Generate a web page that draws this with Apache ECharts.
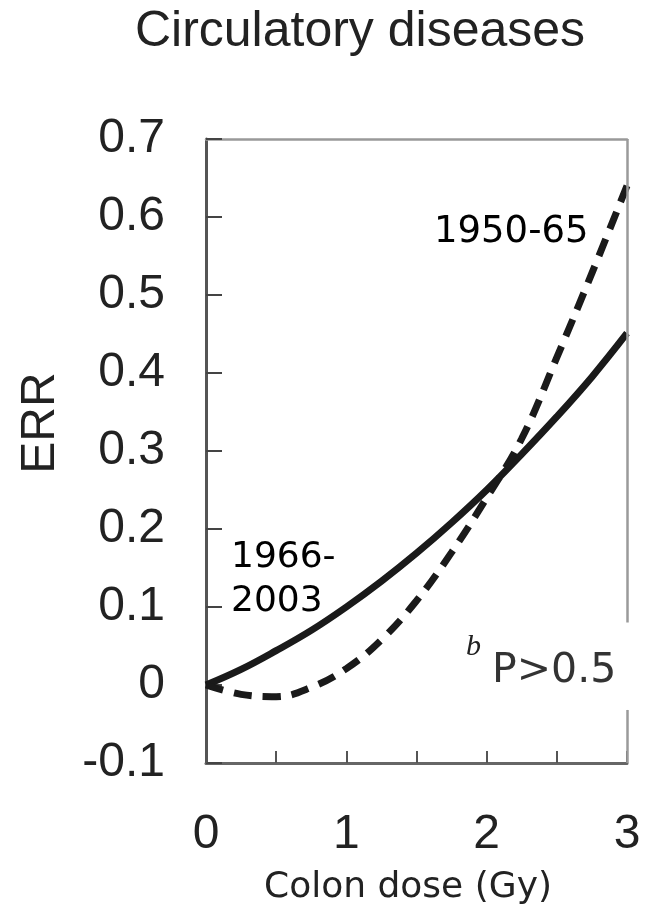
<!DOCTYPE html>
<html>
<head>
<meta charset="utf-8">
<script src="https://cdn.jsdelivr.net/npm/echarts@6/dist/echarts.min.js"></script>
<style>
  html, body { margin: 0; padding: 0; background: #fff; }
  #main { width: 650px; height: 917px; }
</style>
</head>
<body>
<div id="main"></div>
<script>
// colon dose (Gy)
const dose = [0, 0.25, 0.5, 0.75, 1, 1.25, 1.5, 1.75, 2, 2.25, 2.5, 2.75, 3];
// ERR, 1966-2003 (solid)
const err1966 = [0, 0.02, 0.044, 0.07, 0.1, 0.133, 0.169, 0.208, 0.25, 0.296, 0.344, 0.395, 0.451];
// ERR, 1950-65 (dashed)
const err1950 = [0, -0.012, -0.015, -0.003, 0.021, 0.058, 0.108, 0.17, 0.24, 0.316, 0.42, 0.528, 0.64];
// frame on the right side, broken round the p-value
const rightFrame = [[0.7, 0.08], [-0.032, -0.1]];

const FONT = "'Liberation Sans', Arial, sans-serif";
const VERD = "'DejaVu Sans', sans-serif";
const chart = echarts.init(document.getElementById('main'), null, { renderer: 'canvas' });

const pairs = (xs, ys) => xs.map((x, i) => [x, ys[i]]);

let option = {
  animation: false,
  grid: { left: 206, right: 23, top: 139, bottom: 154 },
  xAxis: [
    {
      type: 'value',
      min: 0, max: 3, interval: 0.5,
      axisLine: { onZero: false, lineStyle: { color: '#666', width: 3 } },
      axisTick: { inside: true, length: 12, lineStyle: { color: '#555', width: 2 } },
      axisLabel: {
        margin: 48, fontSize: 48, color: '#222', fontFamily: FONT,
        formatter: v => (v % 1 === 0 ? String(v) : '')
      },
      splitLine: { show: false }
    },
    {
      type: 'value', position: 'top',
      min: 0, max: 3,
      axisLine: { show: true, onZero: false, lineStyle: { color: '#999', width: 2.5 } },
      axisTick: { show: false }, axisLabel: { show: false }, splitLine: { show: false }
    }
  ],
  yAxis: {
    type: 'value',
    min: -0.1, max: 0.7, interval: 0.1,
    axisLine: { show: true, onZero: false, lineStyle: { color: '#555', width: 3 } },
    axisTick: { show: true, inside: true, length: 16, lineStyle: { color: '#444', width: 2 } },
    axisLabel: {
      margin: 41, fontSize: 48, color: '#222', fontFamily: FONT,
      formatter: v => (Math.abs(v) < 1e-9 ? '0' : v.toFixed(1))
    },
    splitLine: { show: false }
  },
  graphic: [
    {
      type: 'text', x: 360, y: 32,
      style: { text: 'Circulatory diseases', fontSize: 50, fontFamily: FONT, fill: '#222', align: 'center', verticalAlign: 'middle' }
    },
    {
      type: 'text', x: 41, y: 423, rotation: Math.PI / 2,
      style: { text: 'ERR', fontSize: 48, fontFamily: FONT, fill: '#222', align: 'center', verticalAlign: 'middle' }
    },
    {
      type: 'text', x: 408, y: 888,
      style: { text: 'Colon dose (Gy)', fontSize: 36, fontFamily: VERD, fill: '#222', align: 'center', verticalAlign: 'middle' }
    },
    {
      type: 'text', x: 434, y: 232,
      style: { text: '1950-65', fontSize: 37, fontFamily: VERD, fill: '#000', verticalAlign: 'middle' }
    },
    {
      type: 'text', x: 231, y: 580,
      style: { text: '1966-\n2003', fontSize: 36, lineHeight: 44, fontFamily: VERD, fill: '#000', verticalAlign: 'middle' }
    },
    {
      type: 'text', x: 466, y: 647,
      style: { text: 'b', fontSize: 30, fontStyle: 'italic', fontFamily: "'Liberation Serif', serif", fill: '#222', verticalAlign: 'middle' }
    },
    {
      type: 'text', x: 492, y: 671,
      style: { text: 'P>0.5', fontSize: 41, fontFamily: VERD, fill: '#333', verticalAlign: 'middle' }
    }
  ],
  series: [
    {
      name: '1966-2003',
      type: 'line',
      data: pairs(dose, err1966),
      smooth: 0.4,
      showSymbol: false,
      lineStyle: { color: '#1a1a1a', width: 7 },
      z: 3,
      markLine: {
        silent: true,
        symbol: ['none', 'none'],
        label: { show: false },
        lineStyle: { color: '#9a9a9a', width: 2.5, type: 'solid' },
        data: rightFrame.map(seg => [{ coord: [3, seg[0]] }, { coord: [3, seg[1]] }])
      }
    },
    {
      name: '1950-65',
      type: 'line',
      data: pairs(dose, err1950),
      smooth: 0.4,
      showSymbol: false,
      lineStyle: { color: '#1a1a1a', width: 7, type: [18, 11], cap: 'butt' },
      z: 4
    }
  ]
};

chart.setOption(option);
</script>
</body>
</html>
